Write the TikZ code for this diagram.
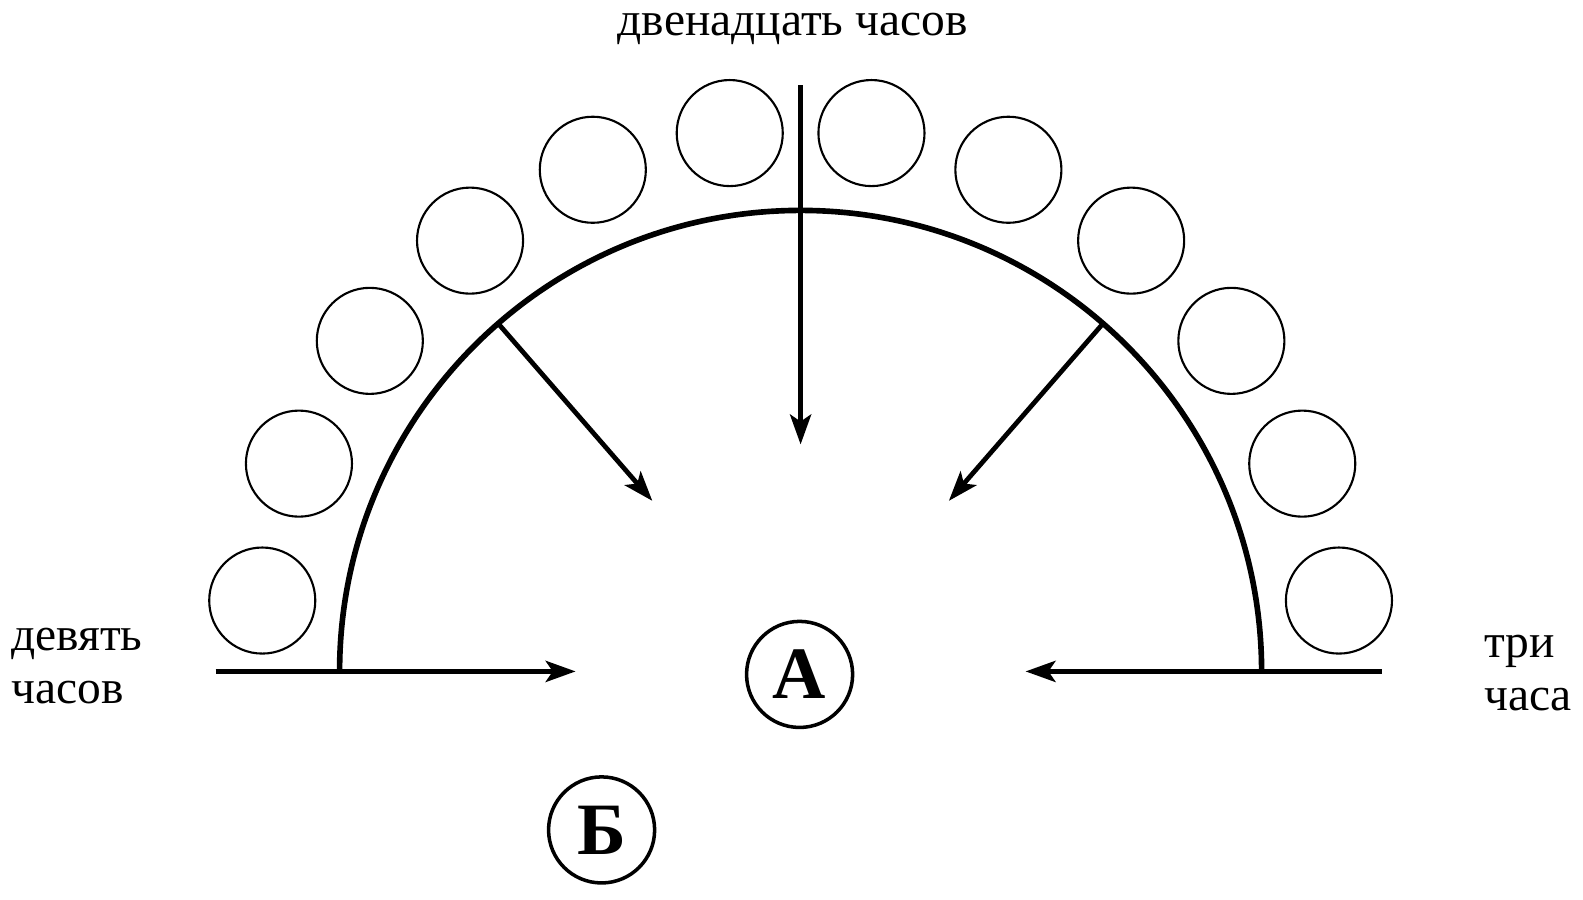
\documentclass[tikz,border=0pt]{standalone}
\usepackage{fontspec}
\setmainfont{Liberation Serif}
\usetikzlibrary{arrows.meta,positioning,calc}
\tikzset{
  rim/.style={line width=1.6pt},
  ball/.style={draw,circle,line width=0.6pt,minimum size=1.06cm,inner sep=0pt},
  spot/.style={draw,circle,line width=1pt,minimum size=1.06cm,inner sep=0pt,
    font=\fontsize{21}{21}\selectfont\bfseries},
  pointer/.style={-{Stealth[length=8.5pt,width=6pt,inset=2pt]},line width=1.35pt},
  hourtext/.style={font=\fontsize{13.5}{15.1}\selectfont,inner sep=0pt}
}
\begin{document}
\begin{tikzpicture}[x=0.01cm,y=0.01cm]
  \useasboundingbox (-800.6,-227.6) rectangle (782.4,671.4);
  % dial
  \draw[rim] (461,0) arc[start angle=0,end angle=180,radius=461];
  \foreach \i in {0,...,11}
    \node[ball] (b\i) at ({7.5+15*\i}:543) {};
  % arrow ends
  \coordinate (nineOut) at (-585,0);
  \coordinate (nineIn) at (-225,0);
  \coordinate (threeOut) at (581,0);
  \coordinate (threeIn) at (225,0);
  \coordinate (twelveOut) at (0,586);
  \coordinate (twelveIn) at (0,227);
  \coordinate (leftOut) at (131:461);
  \coordinate (leftIn) at (131:226);
  \coordinate (rightOut) at (49:461);
  \coordinate (rightIn) at (49:226);
  \draw[pointer] (nineOut) -- (nineIn);
  \draw[pointer] (threeOut) -- (threeIn);
  \draw[pointer] (twelveOut) -- (twelveIn);
  \draw[pointer] (leftOut) -- (leftIn);
  \draw[pointer] (rightOut) -- (rightIn);
  % places
  \node[spot] (A) at (-1,-3) {А};
  \node[spot] (B) at (-199,-158.5) {Б};
  % hours
  \node[hourtext] (twelve) at (-8,642) {двенадцать часов};
  \node[hourtext,align=left,anchor=west] (nine) at (-790,5) {девять\\часов};
  \node[hourtext,align=left,anchor=west] (three) at (683,-2) {три\\часа};
\end{tikzpicture}
\end{document}
